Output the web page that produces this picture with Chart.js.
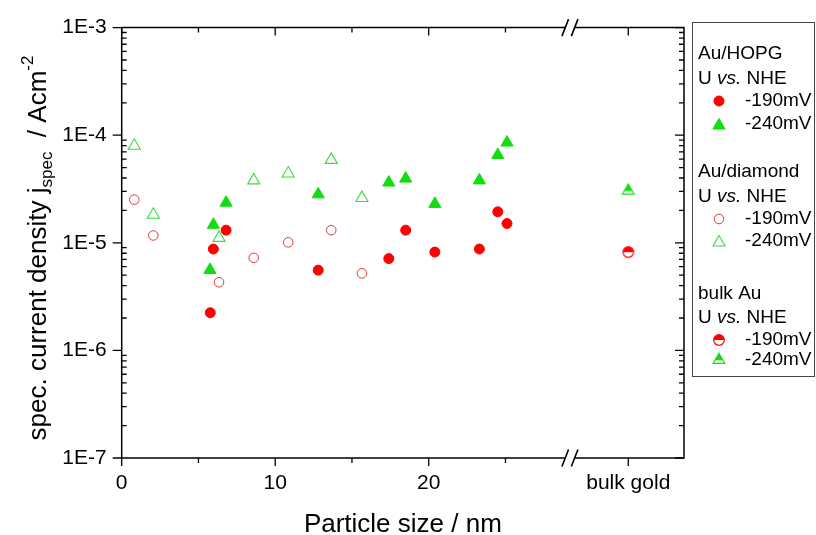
<!DOCTYPE html>
<html><head><meta charset="utf-8">
<script src="https://cdn.jsdelivr.net/npm/chart.js@4/dist/chart.umd.min.js"></script>
<style>html,body{margin:0;padding:0;background:#fff}canvas{display:block}</style>
</head><body>
<canvas id="c" width="816" height="535"></canvas>
<script>
// ---- data ----
const hopgSize190 = [5.77, 5.97, 6.8, 12.8, 17.4, 18.5, 20.4, 23.3, 24.5, 25.1];
const hopgJ190    = [2.24e-6, 8.75e-6, 1.31e-5, 5.57e-6, 7.13e-6, 1.31e-5, 8.2e-6, 8.75e-6, 1.94e-5, 1.51e-5];
const hopgSize240 = [5.75, 5.97, 6.8, 12.8, 17.4, 18.5, 20.4, 23.3, 24.5, 25.1];
const hopgJ240    = [5.6e-6, 1.47e-5, 2.36e-5, 2.82e-5, 3.63e-5, 3.95e-5, 2.3e-5, 3.8e-5, 6.55e-5, 8.55e-5];
const diaSize     = [0.82, 2.06, 6.34, 8.6, 10.85, 13.65, 15.65];
const diaJ190     = [2.52e-5, 1.17e-5, 4.3e-6, 7.24e-6, 1.01e-5, 1.31e-5, 5.2e-6];
const diaJ240     = [7.98e-5, 1.82e-5, 1.11e-5, 3.8e-5, 4.4e-5, 5.9e-5, 2.61e-5];
const bulkSize    = [33];
const bulkJ190    = [8.2e-6];
const bulkJ240    = [3.05e-5];
const xTickValues = [0, 10, 20, 33];
const xTickLabels = ['0', '10', '20', 'bulk gold'];
const xMinorTicks = [5, 15, 25];
const yTickValues = [1e-7, 1e-6, 1e-5, 1e-4, 1e-3];
const yTickLabels = ['1E-7', '1E-6', '1E-5', '1E-4', '1E-3'];
const xBreak = 29.2;
const legendGroups = [
  {title: 'Au/HOPG', items: [0, 1]},
  {title: 'Au/diamond', items: [2, 3]},
  {title: 'bulk Au', items: [4, 5]}
];

const FONT = '"Liberation Sans", Arial, sans-serif';
const RED = '#ff0000', GREEN = '#11dd11', ORED = '#dd3a3a', OGREEN = '#3cdc3c';

function pts(xs, ys){ return xs.map((v,i)=>({x:v, y:ys[i]})); }

// half-filled markers
function halfCircle(){
  const c = document.createElement('canvas'); c.width = 14; c.height = 14;
  const g = c.getContext('2d');
  g.beginPath(); g.arc(7,7,5.3,0,Math.PI*2); g.fillStyle='#fff'; g.fill();
  g.beginPath(); g.arc(7,7,5.3,Math.PI,Math.PI*2); g.closePath(); g.fillStyle=RED; g.fill();
  g.beginPath(); g.arc(7,7,5.3,0,Math.PI*2); g.strokeStyle=RED; g.lineWidth=1.2; g.stroke();
  return c;
}
function halfTriangle(){
  const c = document.createElement('canvas'); c.width = 18; c.height = 18;
  const g = c.getContext('2d');
  const r = 6.8, cx = 9, cy = 9;
  const path = () => { g.beginPath(); g.moveTo(cx, cy-r); g.lineTo(cx+r*0.866, cy+r/2); g.lineTo(cx-r*0.866, cy+r/2); g.closePath(); };
  path(); g.fillStyle='#fff'; g.fill();
  g.save(); path(); g.clip(); g.fillStyle=GREEN; g.fillRect(0,0,18,cy+0.3); g.restore();
  path(); g.strokeStyle=GREEN; g.lineWidth=1.1; g.stroke();
  return c;
}
const hc = halfCircle(), ht = halfTriangle();

const datasets = [
  {label:'-190mV', data: pts(hopgSize190, hopgJ190), pointStyle:'circle', pointRadius:5, backgroundColor:RED, borderColor:RED, borderWidth:1},
  {label:'-240mV', data: pts(hopgSize240, hopgJ240), pointStyle:'triangle', pointRadius:7, backgroundColor:GREEN, borderColor:GREEN, borderWidth:1},
  {label:'-190mV', data: pts(diaSize, diaJ190), pointStyle:'circle', pointRadius:4.8, backgroundColor:'rgba(0,0,0,0)', borderColor:ORED, borderWidth:1},
  {label:'-240mV', data: pts(diaSize, diaJ240), pointStyle:'triangle', pointRadius:7, backgroundColor:'rgba(0,0,0,0)', borderColor:OGREEN, borderWidth:1.1},
  {label:'-190mV', data: pts(bulkSize, bulkJ190), pointStyle:hc, pointRadius:6, backgroundColor:RED, borderColor:RED, borderWidth:1},
  {label:'-240mV', data: pts(bulkSize, bulkJ240), pointStyle:ht, pointRadius:7, backgroundColor:GREEN, borderColor:GREEN, borderWidth:1}
];
datasets.forEach(d => { d.showLine = false; d.pointHoverRadius = d.pointRadius; });

function drawMarker(ctx, ds, x, y){
  const st = ds.pointStyle, r = ds.pointRadius;
  ctx.save();
  if (st instanceof HTMLCanvasElement){ ctx.drawImage(st, x - st.width/2, y - st.height/2); ctx.restore(); return; }
  ctx.beginPath();
  if (st === 'circle') ctx.arc(x, y, r, 0, Math.PI*2);
  else { ctx.moveTo(x, y-r); ctx.lineTo(x+r*0.866, y+r/2); ctx.lineTo(x-r*0.866, y+r/2); ctx.closePath(); }
  ctx.fillStyle = ds.backgroundColor; ctx.fill();
  ctx.strokeStyle = ds.borderColor; ctx.lineWidth = ds.borderWidth; ctx.stroke();
  ctx.restore();
}

const framePlugin = {
  id: 'frame',
  afterDraw(chart){
    const {ctx, chartArea:{left,right,top,bottom}, scales:{x,y}} = chart;
    ctx.save();
    ctx.strokeStyle = '#000'; ctx.lineWidth = 1.5; ctx.lineCap = 'butt';
    const bx = x.getPixelForValue(xBreak), gh = 4.7;
    ctx.beginPath();
    ctx.moveTo(left, top-0.75); ctx.lineTo(left, bottom+0.75);
    ctx.moveTo(right, top-0.75); ctx.lineTo(right, bottom+0.75);
    [top, bottom].forEach(yy => {
      ctx.moveTo(left, yy); ctx.lineTo(bx-gh, yy);
      ctx.moveTo(bx+gh, yy); ctx.lineTo(right, yy);
    });
    ctx.stroke();
    // break marks
    ctx.lineWidth = 1.6;
    ctx.beginPath();
    [top, bottom].forEach(yy => {
      [bx-gh, bx+gh].forEach(cx => { ctx.moveTo(cx-3.3, yy+8.5); ctx.lineTo(cx+3.3, yy-8.5); });
    });
    ctx.stroke();
    // ticks
    ctx.lineWidth = 1.3;
    ctx.beginPath();
    xTickValues.forEach(v => { const p = x.getPixelForValue(v);
      ctx.moveTo(p, bottom); ctx.lineTo(p, bottom+8);
      ctx.moveTo(p, top); ctx.lineTo(p, top+8); });
    xMinorTicks.forEach(v => { const p = x.getPixelForValue(v);
      ctx.moveTo(p, bottom); ctx.lineTo(p, bottom+5);
      ctx.moveTo(p, top); ctx.lineTo(p, top+5); });
    yTickValues.forEach(v => { const p = y.getPixelForValue(v);
      ctx.moveTo(left-9, p); ctx.lineTo(left, p);
      ctx.moveTo(right-9, p); ctx.lineTo(right, p); });
    for (let e = -7; e < -3; e++) for (let m = 2; m <= 9; m++) {
      const p = y.getPixelForValue(m * Math.pow(10, e));
      ctx.moveTo(left, p); ctx.lineTo(left+5, p);
      ctx.moveTo(right-5, p); ctx.lineTo(right, p);
    }
    ctx.stroke();

    // x title
    ctx.fillStyle = '#000';
    ctx.font = '26px ' + FONT; ctx.textAlign = 'center'; ctx.textBaseline = 'alphabetic';
    ctx.fillText('Particle size / nm', (left+right)/2, 532);

    // y title (rotated, with sub/superscript)
    const parts = [
      {t:'spec. current density j', f:26, dy:0},
      {t:'spec', f:17, dy:6},
      {t:'  / Acm', f:26, dy:0},
      {t:'-2', f:17, dy:-13}
    ];
    let total = 0;
    parts.forEach(p => { ctx.font = p.f + 'px ' + FONT; p.w = ctx.measureText(p.t).width; total += p.w; });
    ctx.save();
    ctx.translate(46, 248); ctx.rotate(-Math.PI/2);
    ctx.textAlign = 'left';
    let cx = -total/2;
    parts.forEach(p => { ctx.font = p.f + 'px ' + FONT; ctx.fillText(p.t, cx, p.dy); cx += p.w; });
    ctx.restore();

    // legend box
    ctx.strokeStyle = '#444'; ctx.lineWidth = 1;
    ctx.strokeRect(692.5, 22.5, 122, 354);
    ctx.textAlign = 'left'; ctx.textBaseline = 'middle';
    const rows = [[54,79,101,124],[172,197,219,241],[294,318,340,360]];
    legendGroups.forEach((g, gi) => {
      const r = rows[gi];
      ctx.font = '19px ' + FONT; ctx.fillStyle = '#000';
      ctx.fillText(g.title, 698, r[0]);
      let xx = 698;
      ctx.fillText('U ', xx, r[1]); xx += ctx.measureText('U ').width;
      ctx.font = 'italic 19px ' + FONT; ctx.fillText('vs.', xx, r[1]); xx += ctx.measureText('vs.').width;
      ctx.font = '19px ' + FONT; ctx.fillText(' NHE', xx, r[1]);
      g.items.forEach((di, k) => {
        const ds = chart.data.datasets[di];
        drawMarker(ctx, ds, 719, r[2+k] + (ds.pointStyle === 'triangle' ? 1.5 : 0));
        ctx.fillStyle = '#000'; ctx.font = '19px ' + FONT;
        ctx.fillText(ds.label, 745, r[2+k]);
      });
    });
    ctx.restore();
  }
};

new Chart(document.getElementById('c'), {
  type: 'scatter',
  data: { datasets },
  options: {
    responsive: false, animation: false,
    layout: { padding: { left: 0, top: 22.7, right: 132, bottom: 0 } },
    plugins: { legend: { display: false }, tooltip: { enabled: false } },
    scales: {
      x: {
        type: 'linear', min: 0, max: 36.63,
        afterBuildTicks: s => { s.ticks = xTickValues.map(v => ({value: v})); },
        afterFit: s => { s.height = 77; },
        ticks: { callback: (v) => { const i = xTickValues.indexOf(v); return i >= 0 ? xTickLabels[i] : ''; },
                 font: { family: FONT, size: 21 }, color: '#000', padding: 13, maxRotation: 0, autoSkip: false },
        grid: { display: false, drawTicks: false }, border: { display: false }
      },
      y: {
        type: 'logarithmic', min: 1e-7, max: 1e-3,
        afterBuildTicks: s => { s.ticks = yTickValues.map(v => ({value: v})); },
        afterFit: s => { s.width = 121.7; },
        ticks: { callback: (v) => { const i = yTickValues.findIndex(t => Math.abs(t - v) / t < 1e-6); return i >= 0 ? yTickLabels[i] : ''; },
                 font: { family: FONT, size: 21 }, color: '#000', padding: 15, autoSkip: false },
        grid: { display: false, drawTicks: false }, border: { display: false }
      }
    }
  },
  plugins: [framePlugin]
});
</script>
</body></html>
